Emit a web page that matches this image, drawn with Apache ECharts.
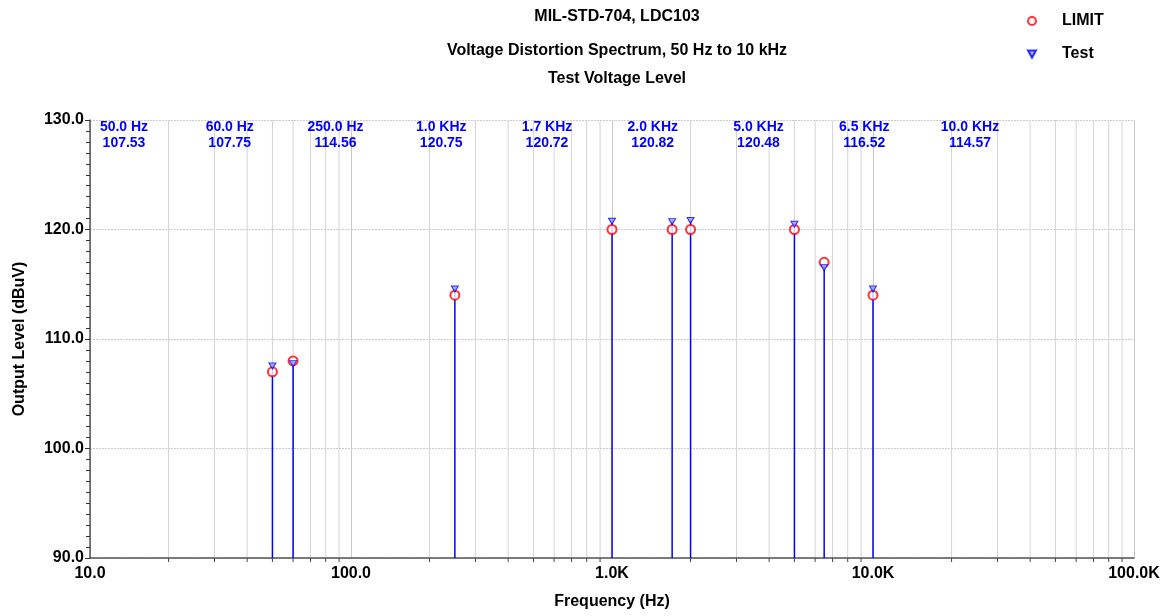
<!DOCTYPE html>
<html><head><meta charset="utf-8">
<script src="https://cdn.jsdelivr.net/npm/echarts@6/dist/echarts.min.js"></script>
<style>html,body{margin:0;padding:0;background:#fff}#c{width:1167px;height:616px}</style>
</head><body><div id="c"></div>
<script>
var frequencies = [50, 60, 250, 1000, 1700, 2000, 5000, 6500, 10000];
var testValues = [107.53, 107.75, 114.56, 120.75, 120.72, 120.82, 120.48, 116.52, 114.57];
var limitValues = [107, 108, 114, 120, 120, 120, 120, 117, 114];
var titles = ['MIL-STD-704, LDC103', 'Voltage Distortion Spectrum, 50 Hz to 10 kHz', 'Test Voltage Level'];
var xAxisName = 'Frequency (Hz)';
var yAxisName = 'Output Level (dBuV)';

var FONT = 'Liberation Sans, Arial, sans-serif';
var FS = 16;
var X_MIN = 10, X_MAX = 100000, Y_MIN = 90, Y_MAX = 130;

// minor log gridline positions (axis decoration)
var minorGrid = [];
for (var d = X_MIN; d < X_MAX; d *= 10) {
  for (var m = 2; m <= 9; m++) minorGrid.push([d * m, Y_MIN]);
}

function freqLabel(f) {
  return f < 1000 ? f.toFixed(1) + ' Hz' : (f / 1000).toFixed(1) + ' KHz';
}

var chart = echarts.init(document.getElementById('c'));

var graphics = frequencies.map(function (f, i) {
  return {
    type: 'text', x: 124 + i * 105.75, y: 119, z: 100,
    style: {
      text: freqLabel(f) + '\n' + testValues[i].toFixed(2),
      x: 0, y: 0, textAlign: 'center', fill: '#0000ff',
      font: 'bold 14px ' + FONT, lineHeight: 16
    }
  };
});

var triPath = 'path://M0,0 L10,0 L5,9 Z';
var txt = { fontFamily: FONT, fontWeight: 'bold', fontSize: FS, color: '#000' };

chart.setOption({
  animation: false,
  backgroundColor: '#fff',
  title: titles.map(function (t, i) {
    return { text: t, left: 612, textAlign: 'center', top: [4, 38, 66][i], textStyle: txt };
  }),
  legend: {
    orient: 'vertical', left: 1022, top: 8, itemWidth: 8, itemHeight: 8, itemGap: 17,
    textStyle: { fontFamily: FONT, fontWeight: 'bold', fontSize: FS, color: '#000', padding: [0, 0, 0, 21] },
    data: ['LIMIT', 'Test']
  },
  grid: { left: 90, right: 33, top: 120, bottom: 58 },
  xAxis: {
    type: 'log', logBase: 10, min: X_MIN, max: X_MAX,
    name: xAxisName, nameLocation: 'middle', nameGap: 36, nameTextStyle: txt,
    axisLine: { lineStyle: { color: '#555', width: 1.5 } },
    axisTick: { show: false },
    axisLabel: {
      fontFamily: FONT, fontWeight: 'bold', fontSize: FS, color: '#000', margin: 8,
      formatter: function (v) { return v >= 1000 ? (v / 1000).toFixed(1) + 'K' : v.toFixed(1); }
    },
    splitLine: { show: true, lineStyle: { color: '#c8c8c8', width: 1 } }
  },
  yAxis: {
    type: 'value', min: Y_MIN, max: Y_MAX, interval: 10,
    name: yAxisName, nameLocation: 'middle', nameGap: 62, nameRotate: 90, nameTextStyle: txt,
    axisLine: { show: true, lineStyle: { color: '#555', width: 1.5 } },
    axisTick: { show: true, length: 5, lineStyle: { color: '#333' } },
    minorTick: { show: true, splitNumber: 10, length: 4, lineStyle: { color: '#333' } },
    axisLabel: {
      fontFamily: FONT, fontWeight: 'bold', fontSize: FS, color: '#000', margin: 6,
      formatter: function (v) { return v.toFixed(1); }
    },
    splitLine: { show: true, lineStyle: { color: '#cccccc', type: [2, 1], width: 1 } }
  },
  graphic: graphics,
  series: [
    {
      name: 'minorGrid', type: 'custom', silent: true, z: 0,
      data: minorGrid,
      renderItem: function (params, api) {
        var top = api.coord([api.value(0), Y_MAX]);
        var bot = api.coord([api.value(0), Y_MIN]);
        return {
          type: 'group', children: [
            { type: 'line', shape: { x1: top[0], y1: top[1], x2: bot[0], y2: bot[1] }, style: { stroke: '#d4d4d4', lineWidth: 1 } },
            { type: 'line', shape: { x1: bot[0], y1: bot[1], x2: bot[0], y2: bot[1] + 4 }, style: { stroke: '#444', lineWidth: 1 } }
          ]
        };
      }
    },
    {
      name: 'stems', type: 'custom', silent: true, z: 2,
      data: frequencies.map(function (f, i) { return [f, testValues[i]]; }),
      renderItem: function (params, api) {
        var p = api.coord([api.value(0), api.value(1)]);
        var b = api.coord([api.value(0), Y_MIN]);
        return { type: 'line', shape: { x1: p[0], y1: b[1], x2: p[0], y2: p[1] }, style: { stroke: '#0000ff', lineWidth: 1.5 } };
      }
    },
    {
      name: 'LIMIT', type: 'scatter', z: 3,
      symbol: 'emptyCircle', symbolSize: 9,
      itemStyle: { color: '#ff0000', borderColor: '#ff0000', borderWidth: 1 },
      data: frequencies.map(function (f, i) { return [f, limitValues[i]]; })
    },
    {
      name: 'Test', type: 'scatter', z: 4,
      symbol: triPath, symbolSize: [7, 6],
      itemStyle: { color: '#9999ff', borderColor: '#0000ff', borderWidth: 1 },
      data: frequencies.map(function (f, i) { return [f, testValues[i]]; })
    }
  ]
});
</script></body></html>
